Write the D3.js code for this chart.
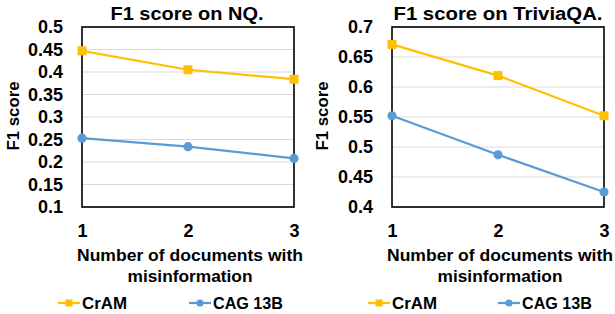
<!DOCTYPE html>
<html lang="en">
<head>
  <meta charset="UTF-8">
  <title>F1 score vs misinformation</title>
  <script src="https://d3js.org/d3.v7.min.js"></script>
  <style>
    html, body {
      margin: 0;
      padding: 0;
      width: 615px;
      height: 314px;
      overflow: hidden;
      background: white;
      font-family: "Liberation Sans", Arial, sans-serif;
    }
    svg { display: block; }
    text { font-weight: bold; fill: #000; }
  </style>
</head>
<body>
<svg width="615" height="314"></svg>
<script>
// data
const docs = [1, 2, 3];
const seriesNames = ["CrAM", "CAG 13B"];
const nqCram = [0.447, 0.405, 0.384];
const nqCag = [0.253, 0.234, 0.208];
const tqCram = [0.671, 0.619, 0.552];
const tqCag = [0.552, 0.487, 0.425];
const nqTicks = [0.1, 0.15, 0.2, 0.25, 0.3, 0.35, 0.4, 0.45, 0.5];
const tqTicks = [0.4, 0.45, 0.5, 0.55, 0.6, 0.65, 0.7];

const colors = { "CrAM": "#FFC000", "CAG 13B": "#5B9BD5" };
const svg = d3.select("svg");

// squeeze/stretch a text to a measured width from the reference
function fitText(sel, w) {
  sel.attr("textLength", w).attr("lengthAdjust", "spacingAndGlyphs");
}

function panel(opt) {
  const g = svg.append("g");
  const x = d3.scalePoint().domain(docs).range([opt.x0, opt.x1]);
  const y = d3.scaleLinear().domain(opt.domain).range([207, 27]);

  // gridlines
  g.append("g").selectAll("line")
    .data(opt.ticks)
    .join("line")
    .attr("x1", opt.x0).attr("x2", opt.x1)
    .attr("y1", d => y(d)).attr("y2", d => y(d))
    .attr("stroke", "#d9d9d9").attr("stroke-width", 1);

  // y axis labels
  const yAxis = d3.axisLeft(y).tickValues(opt.ticks).tickSize(0).tickPadding(19)
    .tickFormat(d => String(+d.toFixed(2)));
  g.append("g").attr("transform", `translate(${opt.x0},0)`).call(yAxis)
    .call(a => a.select(".domain").remove())
    .selectAll("text")
    .attr("font-size", 18).attr("font-family", "Liberation Sans, Arial, sans-serif")
    .attr("font-weight", "bold").attr("fill", "#000");

  // x axis labels
  const xAxis = d3.axisBottom(x).tickSize(0).tickPadding(17);
  g.append("g").attr("transform", "translate(0,207)").call(xAxis)
    .call(a => a.select(".domain").remove())
    .selectAll("text")
    .attr("font-size", 18).attr("font-family", "Liberation Sans, Arial, sans-serif")
    .attr("font-weight", "bold").attr("fill", "#000");

  // plot frame
  g.append("rect")
    .attr("x", opt.x0).attr("y", 27)
    .attr("width", opt.x1 - opt.x0).attr("height", 180)
    .attr("fill", "none").attr("stroke", "#000").attr("stroke-width", 1.6);

  const line = d3.line().x((d, i) => x(docs[i])).y(d => y(d));
  const series = [
    { name: "CrAM", values: opt.cram },
    { name: "CAG 13B", values: opt.cag }
  ];

  series.forEach(s => {
    g.append("path")
      .attr("d", line(s.values))
      .attr("fill", "none")
      .attr("stroke", colors[s.name])
      .attr("stroke-width", 2.25);
    if (s.name === "CrAM") {
      g.selectAll(null).data(s.values).join("rect")
        .attr("x", (d, i) => x(docs[i]) - 4.5)
        .attr("y", d => y(d) - 4.5)
        .attr("width", 9).attr("height", 9)
        .attr("fill", colors[s.name]);
    } else {
      g.selectAll(null).data(s.values).join("circle")
        .attr("cx", (d, i) => x(docs[i]))
        .attr("cy", d => y(d))
        .attr("r", 4.6)
        .attr("fill", colors[s.name]);
    }
  });

  // title
  g.append("text")
    .attr("x", opt.titleX).attr("y", 20)
    .attr("text-anchor", "middle")
    .attr("font-size", 18)
    .text(opt.title)
    .call(fitText, opt.titleW);

  // y title
  g.append("text")
    .attr("transform", `translate(${opt.yTitleX},116) rotate(-90)`)
    .attr("text-anchor", "middle")
    .attr("font-size", 17)
    .text("F1 score")
    .call(fitText, 69);

  // x title (two lines)
  g.append("text")
    .attr("x", opt.xTitleX).attr("y", 261)
    .attr("text-anchor", "middle")
    .attr("font-size", 17)
    .text("Number of documents with")
    .call(fitText, 226);
  g.append("text")
    .attr("x", opt.xTitleX).attr("y", 282)
    .attr("text-anchor", "middle")
    .attr("font-size", 17)
    .text("misinformation")
    .call(fitText, 125);

  // legend
  const leg = g.append("g");
  series.forEach((s, i) => {
    const lx = opt.legX[i];
    leg.append("line")
      .attr("x1", lx).attr("x2", lx + 22)
      .attr("y1", 303).attr("y2", 303)
      .attr("stroke", colors[s.name]).attr("stroke-width", 2.25);
    if (s.name === "CrAM") {
      leg.append("rect")
        .attr("x", lx + 11 - 3.5).attr("y", 303 - 3.5)
        .attr("width", 7).attr("height", 7)
        .attr("fill", colors[s.name]);
    } else {
      leg.append("circle")
        .attr("cx", lx + 11).attr("cy", 303).attr("r", 3.6)
        .attr("fill", colors[s.name]);
    }
    leg.append("text")
      .attr("x", lx + 24).attr("y", 309)
      .attr("font-size", 17)
      .text(s.name)
      .call(fitText, s.name === "CrAM" ? 45 : 70);
  });
}

panel({
  x0: 82, x1: 294, domain: [0.1, 0.5], ticks: nqTicks,
  cram: nqCram, cag: nqCag,
  title: "F1 score on NQ.", titleX: 187, titleW: 153,
  yTitleX: 19, xTitleX: 190, legX: [58, 189]
});

panel({
  x0: 392, x1: 604, domain: [0.4, 0.7], ticks: tqTicks,
  cram: tqCram, cag: tqCag,
  title: "F1 score on TriviaQA.", titleX: 498, titleW: 209,
  yTitleX: 328, xTitleX: 500, legX: [368, 498]
});
</script>
</body>
</html>
